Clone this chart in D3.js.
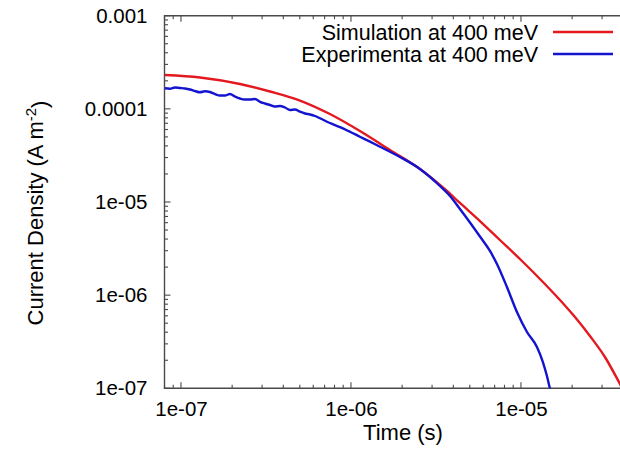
<!DOCTYPE html>
<html><head><meta charset="utf-8">
<script src="https://cdn.jsdelivr.net/npm/d3@7"></script>
<style>
body{margin:0;background:#fff}
text{font-family:"Liberation Sans",Arial,Helvetica,sans-serif;fill:#000}
</style>
</head><body>
<svg id="chart" width="620" height="456"></svg>
<script>
// ---- data ----
const simTime = [8.05e-8,1.294e-7,2.224e-7,3.338e-7,5.01e-7,7.52e-7,1.129e-6,1.696e-6,2.546e-6,3.670e-6,4.377e-6,5.738e-6,7.52e-6,1e-5,1.294e-5,1.696e-5,2.078e-5,2.546e-5,3.119e-5,3.823e-5,4.1e-5];
const simCurrent = [2.31e-4,2.17e-4,1.848e-4,1.535e-4,1.229e-4,8.80e-5,5.78e-5,3.615e-5,2.261e-5,1.312e-5,9.76e-6,6.25e-6,3.909e-6,2.384e-6,1.491e-6,8.87e-7,5.82e-7,3.643e-7,2.168e-7,1.112e-7,8.69e-8];

const expTime = [8.05e-8,8.61e-8,9.22e-8,9.87e-8,1.056e-7,1.130e-7,1.209e-7,1.294e-7,1.384e-7,1.481e-7,1.585e-7,1.696e-7,1.815e-7,1.942e-7,2.078e-7,2.224e-7,2.379e-7,2.546e-7,2.725e-7,2.916e-7,3.120e-7,3.338e-7,3.572e-7,3.823e-7,4.091e-7,4.377e-7,4.684e-7,5.012e-7,5.363e-7,5.738e-7,6.141e-7,6.571e-7,7.524e-7,8.615e-7,9.865e-7,1.129e-6,1.294e-6,1.481e-6,1.696e-6,1.942e-6,2.546e-6,3.338e-6,3.823e-6,4.377e-6,5.012e-6,5.738e-6,6.571e-6,7.225e-6,8.27e-6,9.47e-6,1.085e-5,1.242e-5,1.346e-5,1.422e-5,1.481e-5,1.52e-5];
const expCurrent = [1.662e-4,1.646e-4,1.695e-4,1.674e-4,1.654e-4,1.613e-4,1.554e-4,1.505e-4,1.547e-4,1.517e-4,1.443e-4,1.390e-4,1.390e-4,1.443e-4,1.357e-4,1.291e-4,1.259e-4,1.259e-4,1.275e-4,1.190e-4,1.141e-4,1.100e-4,1.060e-4,1.073e-4,1.034e-4,9.72e-5,9.84e-5,9.32e-5,8.92e-5,8.70e-5,8.38e-5,7.92e-5,7.05e-5,6.38e-5,5.68e-5,5.02e-5,4.44e-5,3.92e-5,3.467e-5,3.04e-5,2.261e-5,1.485e-5,1.160e-5,8.41e-6,6.03e-6,4.26e-6,2.98e-6,2.16e-6,1.223e-6,6.59e-7,4.02e-7,2.776e-7,1.915e-7,1.355e-7,1.0e-7,9.0e-8];

const xTickValues = [1e-7,1e-6,1e-5];
const xTickLabels = ["1e-07","1e-06","1e-05"];
const yTickValues = [1e-7,1e-6,1e-5,1e-4,1e-3];
const yTickLabels = ["1e-07","1e-06","1e-05","0.0001","0.001"];
const seriesNames = ["Simulation at 400 meV","Experimenta at 400 meV"];
const seriesColors = ["#e3191f","#1414d0"];
const xTitle = "Time (s)";
const yTitleMain = "Current Density (A m";
const yTitleSup = "-2";
const yTitleEnd = ")";

// ---- layout ----
const svg = d3.select("#chart");
const L = 164.5, R = 623.3, T = 15.7, B = 388.3;
const x = d3.scaleLog().domain([8e-8, 4e-5]).range([L, R]);
const y = d3.scaleLog().domain([1e-7, 1e-3]).range([B, T]);

function minors(lo, hi) {
  const out = [];
  for (let e = Math.floor(Math.log10(lo)); e <= Math.ceil(Math.log10(hi)); e++) {
    for (let m = 2; m <= 9; m++) {
      const v = m * Math.pow(10, e);
      if (v >= lo && v <= hi) out.push(v);
    }
  }
  return out;
}
const axisColor = "#4a4a4a";
const xMinor = minors(8e-8, 4e-5), yMinor = minors(1e-7, 1e-3);

svg.append("defs").append("clipPath").attr("id","plotclip")
  .append("rect").attr("x",L).attr("y",T).attr("width",R-L).attr("height",B-T);

// tick labels via d3 axes (no tick lines)
const gB = svg.append("g").attr("transform",`translate(0,${B})`)
  .call(d3.axisBottom(x).tickValues(xTickValues).tickSize(0).tickPadding(13)
  .tickFormat((d,i)=>xTickLabels[i]));
const gL = svg.append("g").attr("transform",`translate(${L},0)`)
  .call(d3.axisLeft(y).tickValues(yTickValues).tickSize(0).tickPadding(17)
  .tickFormat((d,i)=>yTickLabels[i]));
svg.selectAll(".domain").remove();
svg.selectAll(".tick text").style("font-size","20.5px").attr("fill","#000");

// frame + inward ticks
const fr = svg.append("g").attr("stroke",axisColor).attr("fill","none");
fr.append("path").attr("d",`M${R},${T}H${L}V${B}H${R}`).attr("stroke-width",1.4);
const tickSets = [
  {vals:xTickValues,len:6},{vals:xMinor,len:3.5}
];
tickSets.forEach(s=>{
  fr.selectAll(null).data(s.vals).enter().append("line")
    .attr("x1",d=>x(d)).attr("x2",d=>x(d)).attr("y1",B).attr("y2",B-s.len).attr("stroke-width",1.1);
  fr.selectAll(null).data(s.vals).enter().append("line")
    .attr("x1",d=>x(d)).attr("x2",d=>x(d)).attr("y1",T).attr("y2",T+s.len).attr("stroke-width",1.1);
});
[{vals:yTickValues,len:6},{vals:yMinor,len:3.5}].forEach(s=>{
  fr.selectAll(null).data(s.vals).enter().append("line")
    .attr("x1",L).attr("x2",L+s.len).attr("y1",d=>y(d)).attr("y2",d=>y(d)).attr("stroke-width",1.1);
});

// lines
const line = d3.line().x(d=>x(d[0])).y(d=>y(d[1])).curve(d3.curveMonotoneX);
const plot = svg.append("g").attr("clip-path","url(#plotclip)");
const series = [d3.zip(simTime, simCurrent), d3.zip(expTime, expCurrent)];
series.forEach((s,i)=>{
  plot.append("path").datum(s).attr("d",line).attr("fill","none")
    .attr("stroke",seriesColors[i]).attr("stroke-width",2.4).attr("stroke-linejoin","round");
});

// legend
const legY = [32, 54];
seriesNames.forEach((n,i)=>{
  svg.append("text").attr("x",538).attr("y",legY[i]).attr("dy","0.35em")
    .attr("text-anchor","end").style("font-size","21.5px").text(n);
  svg.append("line").attr("x1",553).attr("x2",613).attr("y1",legY[i]).attr("y2",legY[i])
    .attr("stroke",seriesColors[i]).attr("stroke-width",2.4);
});

// axis titles
svg.append("text").attr("x",403).attr("y",440).attr("text-anchor","middle")
  .style("font-size","22px").text(xTitle);
const yt = svg.append("text").attr("transform","translate(43,213) rotate(-90)")
  .attr("text-anchor","middle").style("font-size","22px");
yt.append("tspan").text(yTitleMain);
yt.append("tspan").attr("dy","-0.5em").style("font-size","15px").text(yTitleSup);
yt.append("tspan").attr("dy","0.5em").text(yTitleEnd);
</script>
</body></html>
